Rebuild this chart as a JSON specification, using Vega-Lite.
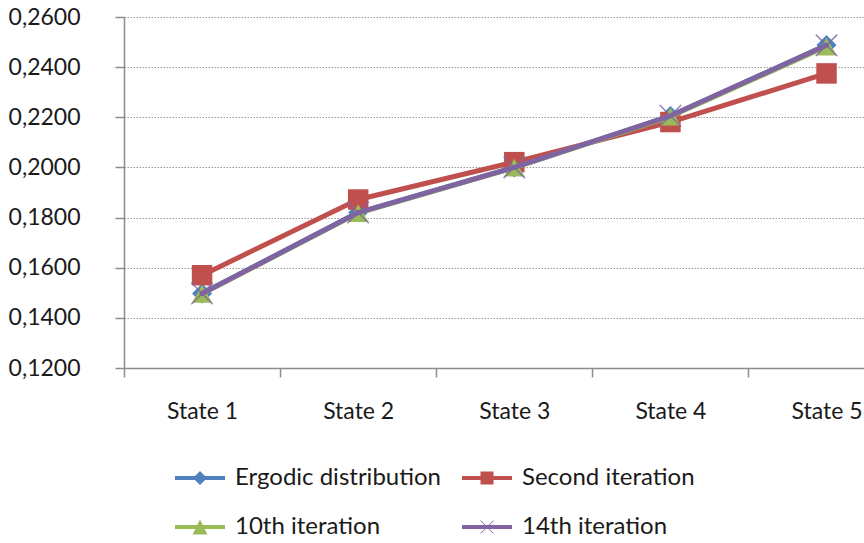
{
  "$schema": "https://vega.github.io/schema/vega-lite/v6.json",
  "autosize": {"type": "none"},
  "padding": {"left": 124, "top": 17, "right": 0, "bottom": 175},
  "background": "white",
  "width": 740,
  "height": 351,
  "config": {
    "font": "Lato",
    "view": {"stroke": null},
    "axis": {
      "labelFont": "Lato",
      "labelFontSize": 23,
      "labelColor": "#1a1a1a",
      "domainColor": "#8c8c8c",
      "domainWidth": 1.5,
      "tickColor": "#8c8c8c",
      "tickWidth": 1.5,
      "tickSize": 9,
      "title": null
    },
    "legend": {
      "labelFont": "Lato",
      "labelFontSize": 24,
      "labelColor": "#1a1a1a",
      "labelLimit": 0
    }
  },
  "data": {
    "values": [
      {"state": 1, "series": "Ergodic distribution", "value": 0.1497},
      {"state": 2, "series": "Ergodic distribution", "value": 0.1820},
      {"state": 3, "series": "Ergodic distribution", "value": 0.2000},
      {"state": 4, "series": "Ergodic distribution", "value": 0.2205},
      {"state": 5, "series": "Ergodic distribution", "value": 0.2488},
      {"state": 1, "series": "Second iteration", "value": 0.1570},
      {"state": 2, "series": "Second iteration", "value": 0.1872},
      {"state": 3, "series": "Second iteration", "value": 0.2021},
      {"state": 4, "series": "Second iteration", "value": 0.2181},
      {"state": 5, "series": "Second iteration", "value": 0.2375},
      {"state": 1, "series": "10th iteration", "value": 0.1496},
      {"state": 2, "series": "10th iteration", "value": 0.1818},
      {"state": 3, "series": "10th iteration", "value": 0.1999},
      {"state": 4, "series": "10th iteration", "value": 0.2203},
      {"state": 5, "series": "10th iteration", "value": 0.2482},
      {"state": 1, "series": "14th iteration", "value": 0.1497},
      {"state": 2, "series": "14th iteration", "value": 0.1820},
      {"state": 3, "series": "14th iteration", "value": 0.2000},
      {"state": 4, "series": "14th iteration", "value": 0.2206},
      {"state": 5, "series": "14th iteration", "value": 0.2487}
    ]
  },
  "encoding": {
    "x": {
      "field": "state",
      "type": "quantitative",
      "scale": {"domain": [0.5, 5.24], "nice": false, "zero": false},
      "axis": {
        "values": [0.5, 1, 1.5, 2, 2.5, 3, 3.5, 4, 4.5, 5],
        "labelExpr": "datum.value % 1 === 0 ? 'State ' + datum.value : ''",
        "tickOpacity": {"condition": {"test": "datum.value % 1 !== 0", "value": 1}, "value": 0},
        "labelPadding": 23,
        "grid": false
      }
    },
    "y": {
      "field": "value",
      "type": "quantitative",
      "scale": {"domain": [0.12, 0.26], "nice": false, "zero": false},
      "axis": {
        "values": [0.12, 0.14, 0.16, 0.18, 0.2, 0.22, 0.24, 0.26],
        "format": ".4f",
        "labelExpr": "replace(datum.label, '.', ',')",
        "labelPadding": 35,
        "grid": true,
        "gridColor": "#9a9a9a",
        "gridDash": [1.5, 1.5],
        "gridWidth": 1
      }
    },
    "color": {
      "field": "series",
      "type": "nominal",
      "scale": {
        "domain": ["Ergodic distribution", "Second iteration", "10th iteration", "14th iteration"],
        "range": ["#4f81bd", "#c0504d", "#9bbb59", "#8064a2"]
      },
      "legend": {
        "title": null,
        "orient": "none",
        "direction": "horizontal",
        "legendX": 51,
        "legendY": 436,
        "columns": 2,
        "columnPadding": 21,
        "rowPadding": 12,
        "labelOffset": 10,
        "symbolSize": 2500,
        "encode": {
          "symbols": {
            "update": {
              "shape": {"signal": "datum.value === 'Ergodic distribution' ? 'M-1,-0.08H1V0.08H-1ZM0,-0.28L0.28,0L0,0.28L-0.28,0Z' : datum.value === 'Second iteration' ? 'M-1,-0.08H1V0.08H-1ZM-0.26,-0.26H0.26V0.26H-0.26Z' : datum.value === '10th iteration' ? 'M-1,-0.08H1V0.08H-1ZM0,-0.3L0.3,0.3H-0.3Z' : 'M-1,-0.08H1V0.08H-1ZM-0.27,-0.25L-0.25,-0.27L0.27,0.25L0.25,0.27ZM0.25,-0.27L0.27,-0.25L-0.25,0.27L-0.27,0.25Z'"},
              "fill": {"signal": "scale('color', datum.value)"},
              "strokeWidth": {"value": 0},
              "opacity": {"value": 1}
            }
          }
        }
      }
    }
  },
  "layer": [
    {
      "transform": [{"filter": "datum.series === 'Ergodic distribution'"}],
      "layer": [
        {"mark": {"type": "line", "strokeWidth": 5, "strokeCap": "round", "strokeJoin": "round"}},
        {"mark": {"type": "point", "shape": "diamond", "filled": true, "size": 400, "opacity": 1}}
      ]
    },
    {
      "transform": [{"filter": "datum.series === 'Second iteration'"}],
      "layer": [
        {"mark": {"type": "line", "strokeWidth": 5, "strokeCap": "round", "strokeJoin": "round"}},
        {"mark": {"type": "point", "shape": "square", "filled": true, "size": 420, "opacity": 1}}
      ]
    },
    {
      "transform": [{"filter": "datum.series === '10th iteration'"}],
      "layer": [
        {"mark": {"type": "line", "strokeWidth": 5, "strokeCap": "round", "strokeJoin": "round"}},
        {"mark": {"type": "point", "shape": "triangle-up", "filled": true, "size": 420, "opacity": 1}}
      ]
    },
    {
      "transform": [{"filter": "datum.series === '14th iteration'"}],
      "layer": [
        {"mark": {"type": "line", "strokeWidth": 5, "strokeCap": "round", "strokeJoin": "round"}},
        {"mark": {"type": "point", "shape": "M-0.95,-1.05L1.05,0.95L0.95,1.05L-1.05,-0.95ZM0.95,-1.05L1.05,-0.95L-0.95,1.05L-1.05,0.95Z", "filled": true, "size": 460, "opacity": 0.8}}
      ]
    }
  ]
}
